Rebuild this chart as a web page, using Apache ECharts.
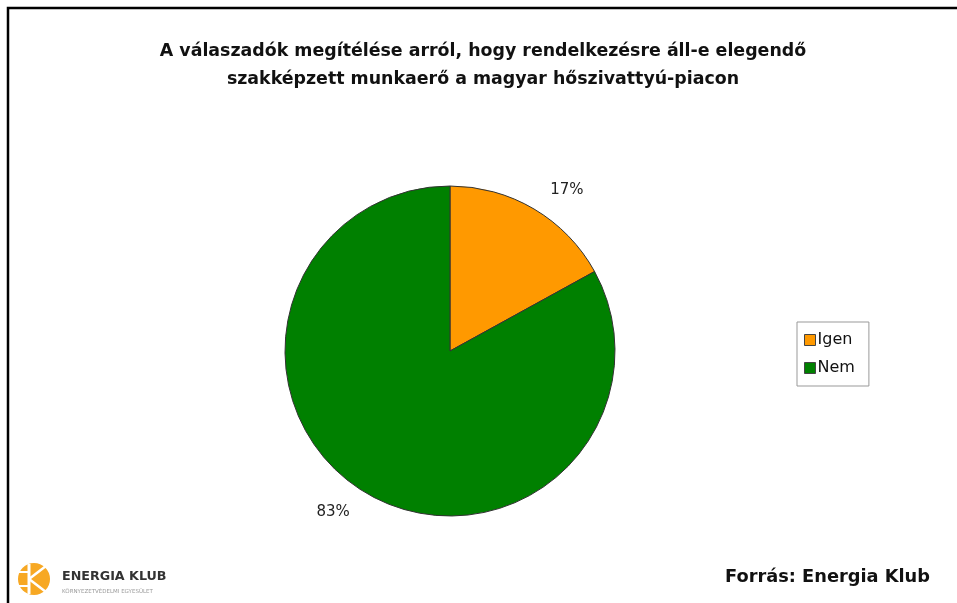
<!DOCTYPE html>
<html>
<head>
<meta charset="utf-8">
<script src="https://cdn.jsdelivr.net/npm/echarts@6/dist/echarts.min.js"></script>
<style>
html,body{margin:0;padding:0;background:#fff;}
#c{width:957px;height:603px;}
</style>
</head>
<body>
<div id="c"></div>
<script>
const categories = ['Igen', 'Nem'];
const values = [17, 83];
const colors = ['#FF9900', '#008000'];
const titleText = 'A válaszadók megítélése arról, hogy rendelkezésre áll-e elegendő\nszakképzett munkaerő a magyar hőszivattyú-piacon';
const sourceText = 'Forrás: Energia Klub';

const chart = echarts.init(document.getElementById('c'), null, {renderer: 'canvas'});
const font = '"DejaVu Sans", sans-serif';

chart.setOption({
  animation: false,
  backgroundColor: '#ffffff',
  title: {
    text: titleText,
    left: 478, top: 32, textAlign: 'center',
    textStyle: {fontFamily: font, fontSize: 17.4, fontWeight: 'bold', color: '#111', lineHeight: 28}
  },
  legend: {
    orient: 'vertical',
    left: 797, top: 322,
    data: categories,
    icon: 'rect',
    itemWidth: 11, itemHeight: 11,
    itemGap: 12,
    padding: [10, 14, 10, 7],
    borderColor: '#999', borderWidth: 1,
    backgroundColor: '#fff',
    textStyle: {fontFamily: font, fontSize: 16, color: '#111', padding: [0,0,0,-3]},
    itemStyle: {borderColor: '#444', borderWidth: 1}
  },
  series: [{
    type: 'pie',
    center: [450, 351],
    radius: 165,
    startAngle: 90,
    clockwise: true,
    data: categories.map((c, i) => ({name: c, value: values[i], itemStyle: {color: colors[i]}})),
    itemStyle: {borderColor: '#333', borderWidth: 1},
    label: {
      show: true, position: 'outside',
      formatter: p => p.value + '%',
      fontFamily: font, fontSize: 15, color: '#222'
    },
    labelLine: {show: false, length: 22, length2: 0},
    emphasis: {disabled: true}
  }],
  graphic: [
    {type: 'rect', shape: {x: 8, y: 8, width: 960, height: 600}, style: {fill: 'none', stroke: '#000', lineWidth: 2.5}, silent: true},
    {type: 'text', style: {text: sourceText, x: 930, y: 577, textAlign: 'right', textVerticalAlign: 'middle', font: 'bold 17.8px "DejaVu Sans", sans-serif', fill: '#111'}},
    {type: 'circle', shape: {cx: 34, cy: 579, r: 16}, style: {fill: '#F7A823'}},
    {type: 'polyline', shape: {points: [[29,564],[29,594]]}, style: {stroke: '#fff', lineWidth: 3}},
    {type: 'polyline', shape: {points: [[29,579],[46,566]]}, style: {stroke: '#fff', lineWidth: 2.5}},
    {type: 'polyline', shape: {points: [[29,579],[46,592]]}, style: {stroke: '#fff', lineWidth: 2.5}},
    {type: 'polyline', shape: {points: [[18,572],[29,572]]}, style: {stroke: '#fff', lineWidth: 2}},
    {type: 'polyline', shape: {points: [[18,586],[29,586]]}, style: {stroke: '#fff', lineWidth: 2}},
    {type: 'text', style: {text: 'ENERGIA KLUB', x: 62, y: 577, textVerticalAlign: 'middle', font: 'bold 12.7px "DejaVu Sans", sans-serif', fill: '#333'}},
    {type: 'text', style: {text: 'KÖRNYEZETVÉDELMI EGYESÜLET', x: 62, y: 592, textVerticalAlign: 'middle', font: '5.5px "DejaVu Sans", sans-serif', fill: '#999'}}
  ]
});
</script>
</body>
</html>
